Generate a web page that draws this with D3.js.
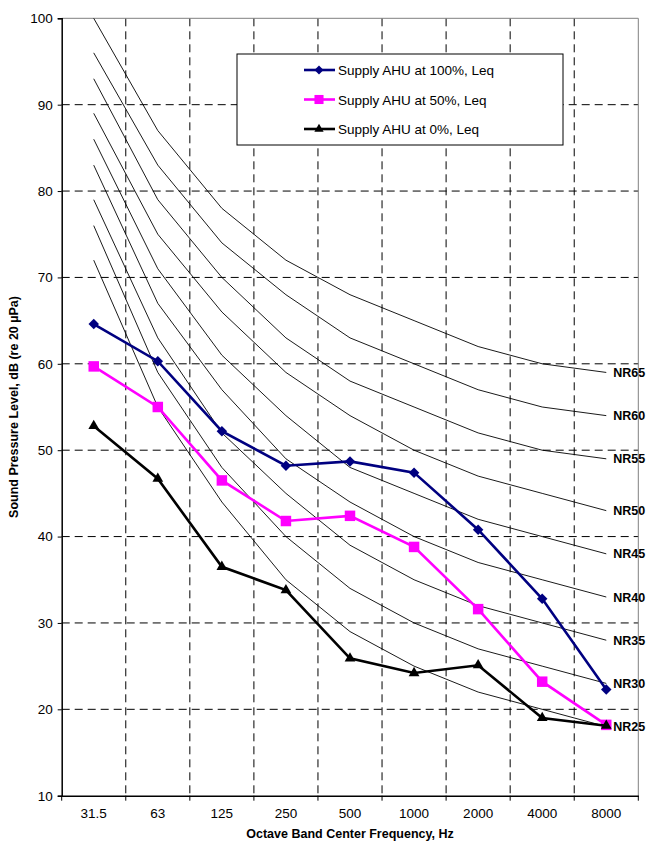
<!DOCTYPE html>
<html>
<head>
<meta charset="utf-8">
<script src="https://cdn.jsdelivr.net/npm/d3@7"></script>
<style>
body { margin: 0; background: #fff; }
text { font-family: "Liberation Sans", Arial, sans-serif; }
</style>
</head>
<body>
<svg width="651" height="845"></svg>
<script>
var bands = ["31.5", "63", "125", "250", "500", "1000", "2000", "4000", "8000"];

var ahu100 = [64.6, 60.3, 52.2, 48.2, 48.7, 47.4, 40.8, 32.8, 22.3];
var ahu50 = [59.7, 55.0, 46.5, 41.8, 42.4, 38.8, 31.6, 23.2, 18.2];
var ahu0 = [52.8, 46.7, 36.5, 33.8, 25.9, 24.2, 25.1, 19.0, 18.1];

var nrNames = ["NR25", "NR30", "NR35", "NR40", "NR45", "NR50", "NR55", "NR60", "NR65"];
var nrValues = [
  [72, 55, 44, 35, 29, 25, 22, 20, 18],
  [76, 59, 48, 40, 34, 30, 27, 25, 23],
  [79, 63, 52, 45, 39, 35, 32, 30, 28],
  [83, 67, 57, 49, 44, 40, 37, 35, 33],
  [86, 71, 61, 54, 48, 45, 42, 40, 38],
  [89, 75, 66, 59, 54, 50, 47, 45, 43],
  [93, 79, 70, 63, 58, 55, 52, 50, 49],
  [96, 83, 74, 68, 63, 60, 57, 55, 54],
  [100, 87, 78, 72, 68, 65, 62, 60, 59]
];

var yTicks = [10, 20, 30, 40, 50, 60, 70, 80, 90, 100];

var svg = d3.select("svg"),
  plotLeft = 61.7, plotRight = 638.3, plotTop = 18.3, plotBottom = 795.7;

var xScale = d3.scaleBand().domain(bands).range([plotLeft, plotRight]),
  yScale = d3.scaleLinear().domain([10, 100]).range([plotBottom, plotTop]);

var cx = function (d, i) { return xScale(bands[i]) + xScale.bandwidth() / 2; };

// grid
var g = svg.append("g");
g.selectAll(".hgrid")
  .data(yTicks.filter(function (d) { return d > 10 && d < 100; }))
  .enter().append("line")
  .attr("x1", plotLeft).attr("x2", plotRight)
  .attr("y1", function (d) { return yScale(d); })
  .attr("y2", function (d) { return yScale(d); })
  .attr("stroke", "#000").attr("stroke-width", 1)
  .attr("stroke-dasharray", "8,5");

var bounds = bands.slice(1).map(function (b) { return xScale(b); });
g.selectAll(".vgrid")
  .data(bounds)
  .enter().append("line")
  .attr("x1", function (d) { return d; }).attr("x2", function (d) { return d; })
  .attr("y1", plotTop).attr("y2", plotBottom)
  .attr("stroke", "#000").attr("stroke-width", 1)
  .attr("stroke-dasharray", "8,5");

// top + right border
svg.append("line").attr("x1", plotLeft).attr("x2", plotRight).attr("y1", plotTop).attr("y2", plotTop)
  .attr("stroke", "#808080").attr("stroke-width", 1);
svg.append("line").attr("x1", plotRight).attr("x2", plotRight).attr("y1", plotTop).attr("y2", plotBottom)
  .attr("stroke", "#808080").attr("stroke-width", 1);

// NR curves
var line = d3.line().x(cx).y(function (d) { return yScale(d); });
svg.selectAll(".nr")
  .data(nrValues)
  .enter().append("path")
  .attr("d", line)
  .attr("fill", "none").attr("stroke", "#000").attr("stroke-width", 0.9);

svg.selectAll(".nrlab")
  .data(nrValues)
  .enter().append("text")
  .attr("x", xScale("8000") + xScale.bandwidth() / 2 + 7)
  .attr("y", function (d) { return yScale(d[8]) + 4.5; })
  .attr("font-size", 12.5).attr("font-weight", "bold")
  .text(function (d, i) { return nrNames[i]; });

// legend
var legend = svg.append("g");
legend.append("rect").attr("x", 237).attr("y", 54).attr("width", 326).attr("height", 91)
  .attr("fill", "#fff").attr("stroke", "#000").attr("stroke-width", 1);

var series = [
  { name: "Supply AHU at 100%, Leq", values: ahu100, color: "#000080", symbol: d3.symbolSquare, size: 55, rot: 45, width: 2.6 },
  { name: "Supply AHU at 50%, Leq", values: ahu50, color: "#FF00FF", symbol: d3.symbolSquare, size: 110, rot: 0, width: 2.6 },
  { name: "Supply AHU at 0%, Leq", values: ahu0, color: "#000000", symbol: d3.symbolTriangle, size: 50, rot: 0, width: 2.6 }
];

series.forEach(function (s, k) {
  svg.append("path")
    .attr("d", line(s.values))
    .attr("fill", "none").attr("stroke", s.color).attr("stroke-width", s.width);
  svg.selectAll(".pt" + k)
    .data(s.values)
    .enter().append("path")
    .attr("transform", function (d, i) { return "translate(" + cx(d, i) + "," + yScale(d) + ") rotate(" + s.rot + ")"; })
    .attr("d", d3.symbol().type(s.symbol).size(s.size))
    .attr("fill", s.color);

  var ly = 70 + k * 29.5;
  legend.append("line").attr("x1", 304).attr("x2", 335).attr("y1", ly).attr("y2", ly)
    .attr("stroke", s.color).attr("stroke-width", s.width);
  legend.append("path")
    .attr("transform", "translate(319," + ly + ") rotate(" + s.rot + ")")
    .attr("d", d3.symbol().type(s.symbol).size(s.size * 0.75))
    .attr("fill", s.color);
  legend.append("text").attr("x", 338).attr("y", ly + 5)
    .attr("font-size", 13.5).text(s.name);
});

// axes
var yAxis = svg.append("g")
  .attr("transform", "translate(" + plotLeft + ",0)")
  .call(d3.axisLeft(yScale).tickValues(yTicks).tickSize(4).tickPadding(5));
yAxis.select(".domain").attr("stroke", "#000").attr("stroke-width", 1.5);
yAxis.selectAll("text").attr("font-size", 13.5).attr("font-family", "Liberation Sans, Arial, sans-serif").attr("fill", "#000");

var xAxis = svg.append("g")
  .attr("transform", "translate(0," + plotBottom + ")")
  .call(d3.axisBottom(xScale).tickSize(0).tickPadding(13));
xAxis.select(".domain").attr("stroke", "#000").attr("stroke-width", 1.5);
xAxis.selectAll("text").attr("font-size", 13.5).attr("font-family", "Liberation Sans, Arial, sans-serif").attr("fill", "#000");

xAxis.selectAll(".btick")
  .data([plotLeft].concat(bounds).concat([plotRight]))
  .enter().append("line")
  .attr("x1", function (d) { return d; }).attr("x2", function (d) { return d; })
  .attr("y1", 0).attr("y2", 5)
  .attr("stroke", "#000");

// titles
svg.append("text")
  .attr("x", (plotLeft + plotRight) / 2).attr("y", 838)
  .attr("text-anchor", "middle").attr("font-size", 12.5).attr("font-weight", "bold")
  .text("Octave Band Center Frequency, Hz");

svg.append("text")
  .attr("transform", "translate(18," + (plotTop + plotBottom) / 2 + ") rotate(-90)")
  .attr("text-anchor", "middle").attr("font-size", 12.5).attr("font-weight", "bold")
  .text("Sound Pressure Level, dB (re 20 µPa)");
</script>
</body>
</html>
